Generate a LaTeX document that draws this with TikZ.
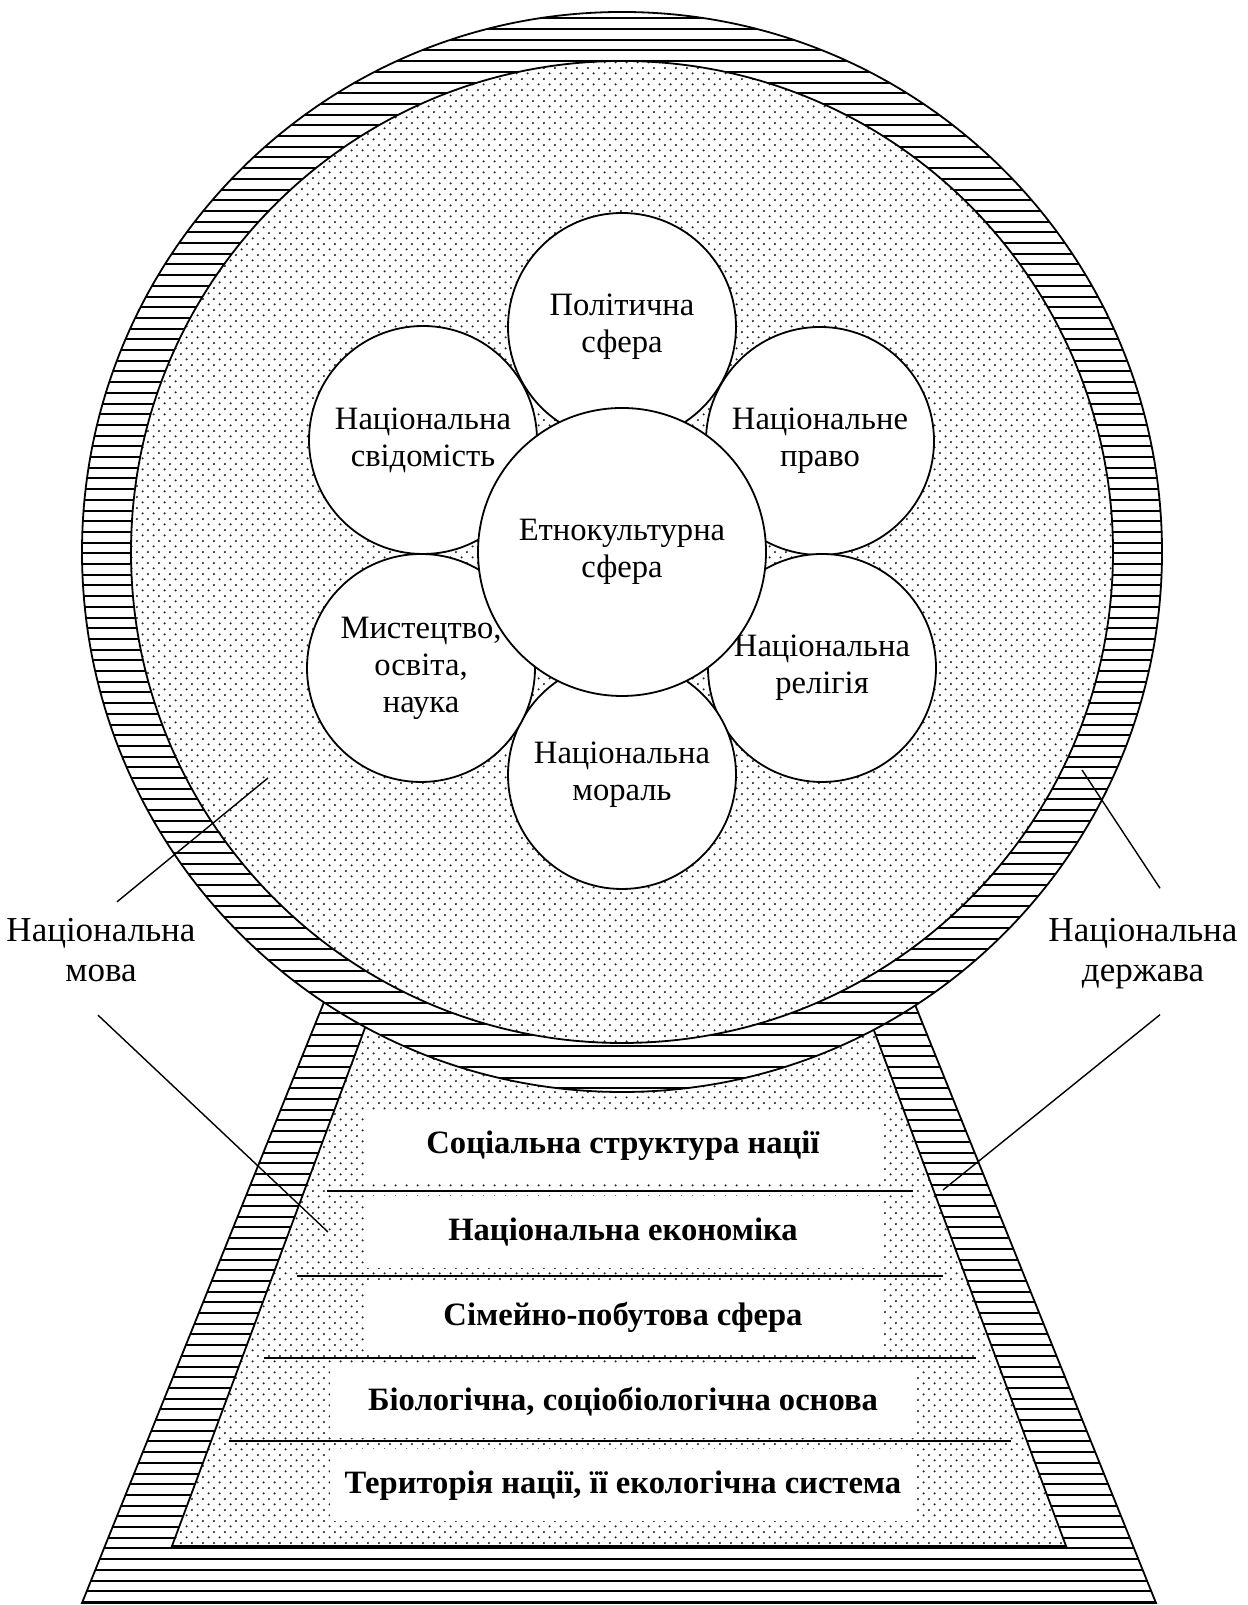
\documentclass[tikz,border=0pt]{standalone}
\usepackage{fontspec}
\setmainfont{Liberation Serif}
\usetikzlibrary{patterns,positioning}

\pgfdeclarepatternformonly{finedots}{\pgfpointorigin}{\pgfqpoint{5.4pt}{5.4pt}}{\pgfqpoint{5.4pt}{5.4pt}}{
	\pgfpathcircle{\pgfqpoint{1.35pt}{1.35pt}}{0.6pt}
	\pgfpathcircle{\pgfqpoint{4.05pt}{4.05pt}}{0.6pt}
	\pgfusepath{fill}
}

\begin{document}
\begin{tikzpicture}[
				x=0.5pt, y=0.5pt,
				outline/.style={draw, line width=0.9pt},
				hatch/.style={line width=1pt},
				speckled/.style={outline, preaction={fill=white}, pattern=finedots, pattern color=black!85},
				sphere/.style={circle, draw, line width=0.9pt, fill=white, minimum size=114pt, inner sep=0pt, align=center, font=\fontsize{16.3}{18.5}\selectfont},
				core/.style={sphere, minimum size=144pt},
				stratum/.style={rectangle, fill=white, minimum height=36pt, inner sep=0pt, font=\fontsize{16.3}{18}\selectfont\bfseries},
				sidelabel/.style={align=center, inner sep=0pt, font=\fontsize{17.5}{20}\selectfont},
				leader/.style={line width=0.7pt}
				]
				\useasboundingbox (0,0) rectangle (1247,1605);
				\coordinate (mid) at (622,1053);
				
				\fill[white] (82,2) -- (1156,2) -- (893,655) -- (345,655) -- cycle;
				\begin{scope}
					\clip (82,2) -- (1156,2) -- (893,655) -- (345,655) -- cycle;
					\foreach \k in {0,...,62}
						\draw[hatch] (0,{3+10.7*\k}) -- (1247,{3+10.7*\k});
				\end{scope}
				\draw[outline] (82,2) -- (1156,2) -- (893,655) -- (345,655) -- cycle;
				\draw[speckled] (172,59) -- (1066,59) -- (844,655) -- (394,655) -- cycle;
				
				\fill[white] (mid) circle (540);
				\begin{scope}
					\clip (mid) circle (540);
					\foreach \k in {45,...,150}
						\draw[hatch] (0,{3+10.7*\k}) -- (1247,{3+10.7*\k});
				\end{scope}
				\draw[outline] (mid) circle (540);
				\draw[speckled] (mid) circle (491);
				
				\node[sphere] (polit) at ([shift={(0,225)}]mid) {Політична\\сфера};
				\node[sphere] (law) at ([shift={(198,111)}]mid) {Національне\\право};
				\node[sphere] (religion) at ([shift={(200,-116)}]mid) {Національна\\релігія};
				\node[sphere] (moral) at ([shift={(0,-223)}]mid) {Національна\\мораль};
				\node[sphere] (arts) at ([shift={(-201,-116)}]mid) {Мистецтво,\\освіта,\\наука};
				\node[sphere] (mind) at ([shift={(-199,112)}]mid) {Національна\\свідомість};
				\node[core] (ethno) at (mid) {Етнокультурна\\сфера};
				
				\node[stratum, minimum width=259pt] (social) at (623,459) {Соціальна структура нації};
				\node[stratum, minimum width=259pt, below=6.5pt of social] (econ) {Національна економіка};
				\node[stratum, minimum width=259pt, below=6.5pt of econ] (family) {Сімейно-побутова сфера};
				\node[stratum, minimum width=293pt, below=5.75pt of family] (bio) {Біологічна, соціобіологічна основа};
				\node[stratum, minimum width=293pt, below=5.25pt of bio] (territory) {Територія нації, її екологічна система};
				\foreach \y/\a in {414/327, 329/297, 247/264, 164/229}
					\draw[line width=0.9pt] (\a,\y) -- ({1240-\a},\y);
				
				\node[sidelabel] (mova) at (101,655) {Національна\\мова};
				\node[sidelabel] (derzh) at (1143,651) {Національна\\держава};
				\coordinate (movatip1) at (268,827);
				\coordinate (movatip2) at (328,373);
				\coordinate (derzhtip1) at (1082,835);
				\coordinate (derzhtip2) at (943,415);
				\draw[leader] ([shift={(8pt,8pt)}]mova.north) -- (movatip1);
				\draw[leader] ([shift={(-1.5pt,-16.5pt)}]mova.south) -- (movatip2);
				\draw[leader] ([shift={(8.5pt,15pt)}]derzh.north) -- (derzhtip1);
				\draw[leader] ([shift={(8.5pt,-12.5pt)}]derzh.south) -- (derzhtip2);
			\end{tikzpicture}
\end{document}
